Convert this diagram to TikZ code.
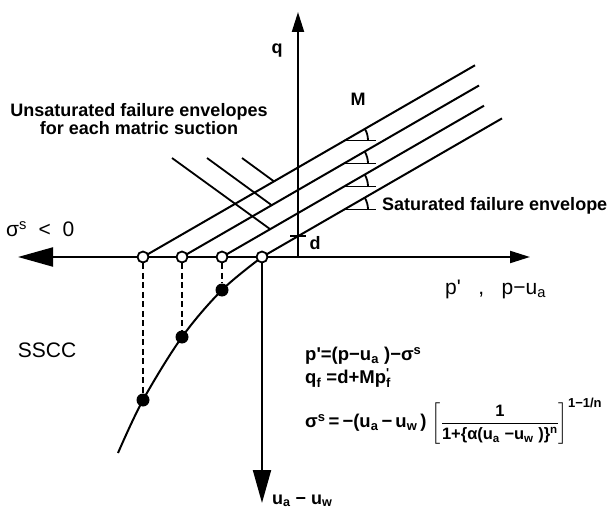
\documentclass[tikz,border=0pt]{standalone}
\usepackage{fontspec}
\setmainfont{Liberation Sans}
\usepackage{amsmath}
\usetikzlibrary{positioning,arrows.meta,calc,backgrounds}
\tikzset{
  axis/.style={line width=2.1pt},
  env-line/.style={line width=2pt},
  leader/.style={line width=1.8pt},
  proj-line/.style={line width=2.6pt,dash pattern=on 6pt off 3.5pt},
  dot-open/.style={circle,draw,line width=1.8pt,fill=white,inner sep=0pt,minimum size=11pt},
  dot-fill/.style={circle,fill,inner sep=0pt,minimum size=13pt},
  txt-bold/.style={inner sep=0pt,font=\fontsize{18}{18}\selectfont\bfseries},
  txt-reg/.style={inner sep=0pt,font=\fontsize{21}{21}\selectfont},
  txt-eq/.style={inner sep=0pt,anchor=west,font=\fontsize{18.5}{19}\selectfont\bfseries},
}
\newcommand{\eqsmall}[1]{\text{\fontsize{16.5}{17}\selectfont #1}}
\newcommand{\eqtiny}[1]{\text{\fontsize{13}{13}\selectfont #1}}
\begin{document}
\begin{tikzpicture}[x=1pt,y=-1pt]
  \useasboundingbox (0,0) rectangle (611,511);
  % 轴
  \coordinate (orig) at (298,257);
  \coordinate (xl)   at (18,257);
  \coordinate (xr)   at (530,257);
  \coordinate (qtop) at (298,12);
  \coordinate (sbot) at (262,503);
  % 截距处的点与 SSCC 上的点
  \foreach \i/\x in {1/143,2/182,3/222,4/262}
    \node[dot-open] (o\i) at (\x,257) {};
  \node[dot-fill] (f1) at (222,290) {};
  \node[dot-fill] (f2) at (182,337) {};
  \node[dot-fill] (f3) at (143,400) {};
  \coordinate (send) at (118,453);
  % 破坏包络线端点
  \coordinate (e1) at (475,65.3);
  \coordinate (e2) at (479,85.5);
  \coordinate (e3) at (484,105.7);
  \coordinate (e4) at (502,118.4);
  % 引线
  \coordinate (u1) at (172,158); \coordinate (v1) at (269.8,228.9);
  \coordinate (u2) at (207,158); \coordinate (v2) at (271.7,205.2);
  \coordinate (u3) at (242,158); \coordinate (v3) at (274,181.4);
  \begin{scope}[on background layer]
    \draw[axis,-{Triangle[length=35pt,width=19pt]}] (orig) -- (xl);
    \draw[axis,-{Triangle[length=20pt,width=12pt]}] (orig) -- (xr);
    \draw[axis,-{Triangle[length=20pt,width=12pt]}] (orig) -- (qtop);
    \draw[axis,-{Triangle[length=33pt,width=18pt]}] (o4.center) -- (sbot);
    \foreach \i in {1,...,4}
      \draw[env-line] (o\i.center) -- (e\i);
    \draw[proj-line] (o1) -- (f3);
    \draw[proj-line] (o2) -- (f2);
    \draw[proj-line] (o3) -- (f1);
    \draw[env-line] plot[smooth,tension=0.55] coordinates
      {(o4.center) (f1.center) (f2.center) (f3.center) (send)};
    \foreach \j in {1,2,3}
      \draw[leader] (u\j) -- (v\j);
    % 斜率 M 的角度标记
    \foreach \y in {140.4,163.5,186.5,209.5} {
      \draw[leader] (345,\y) -- ++(31,0);
      \draw[leader] (368,\y) arc[start angle=0,end angle=30,radius=23pt];
    }
    \draw[axis] (290,236) -- (306,236);
  \end{scope}
  % 标签
  \node[txt-bold] (lq) at (277,51) {q};
  \node[txt-bold] (lm) at (358,99) {M};
  \node[txt-bold] (ld) at (315,243) {d};
  \node[txt-bold,align=center] (lunsat) at (139,119)
    {Unsaturated failure envelopes\\for each matric suction};
  \node[txt-bold,anchor=west] (lsat) at (382,206) {Saturated failure envelope};
  \node[txt-reg,anchor=west] (lsig) at (6,229) {σ\textsuperscript{s}\ \ <\ \ 0};
  \node[txt-reg] (lsscc) at (47,350) {SSCC};
  \node[txt-reg,anchor=west] (lp) at (445,289)
    {p\textquotesingle\ \ \ ,\ \ \ p−u\textsubscript{a}};
  \node[txt-bold,anchor=west] (lua) at (272,501) {u\textsubscript{a} − u\textsubscript{w}};
  % 公式
  \node[txt-eq] (eq1) at (305,356)
    {p\textquotesingle=(p−u\textsubscript{a} )−σ\textsuperscript{s}};
  \node[txt-eq] (eq2) at (305,378)
    {q\textsubscript{f} =d+Mp\rlap{\textsuperscript{\textquotesingle}}\textsubscript{f}};
  \node[txt-eq] (eq3) at (305,421)
    {σ\textsuperscript{s}\,=\,−(u\textsubscript{a}\,−\,u\textsubscript{w}\,)\ $\biggl[\dfrac{\eqsmall{1}}{\eqsmall{1+\{α(u\textsubscript{a} −u\textsubscript{w} )\}\textsuperscript{n}}}\biggr]^{\eqtiny{1−1/n}}$};
\end{tikzpicture}
\end{document}
